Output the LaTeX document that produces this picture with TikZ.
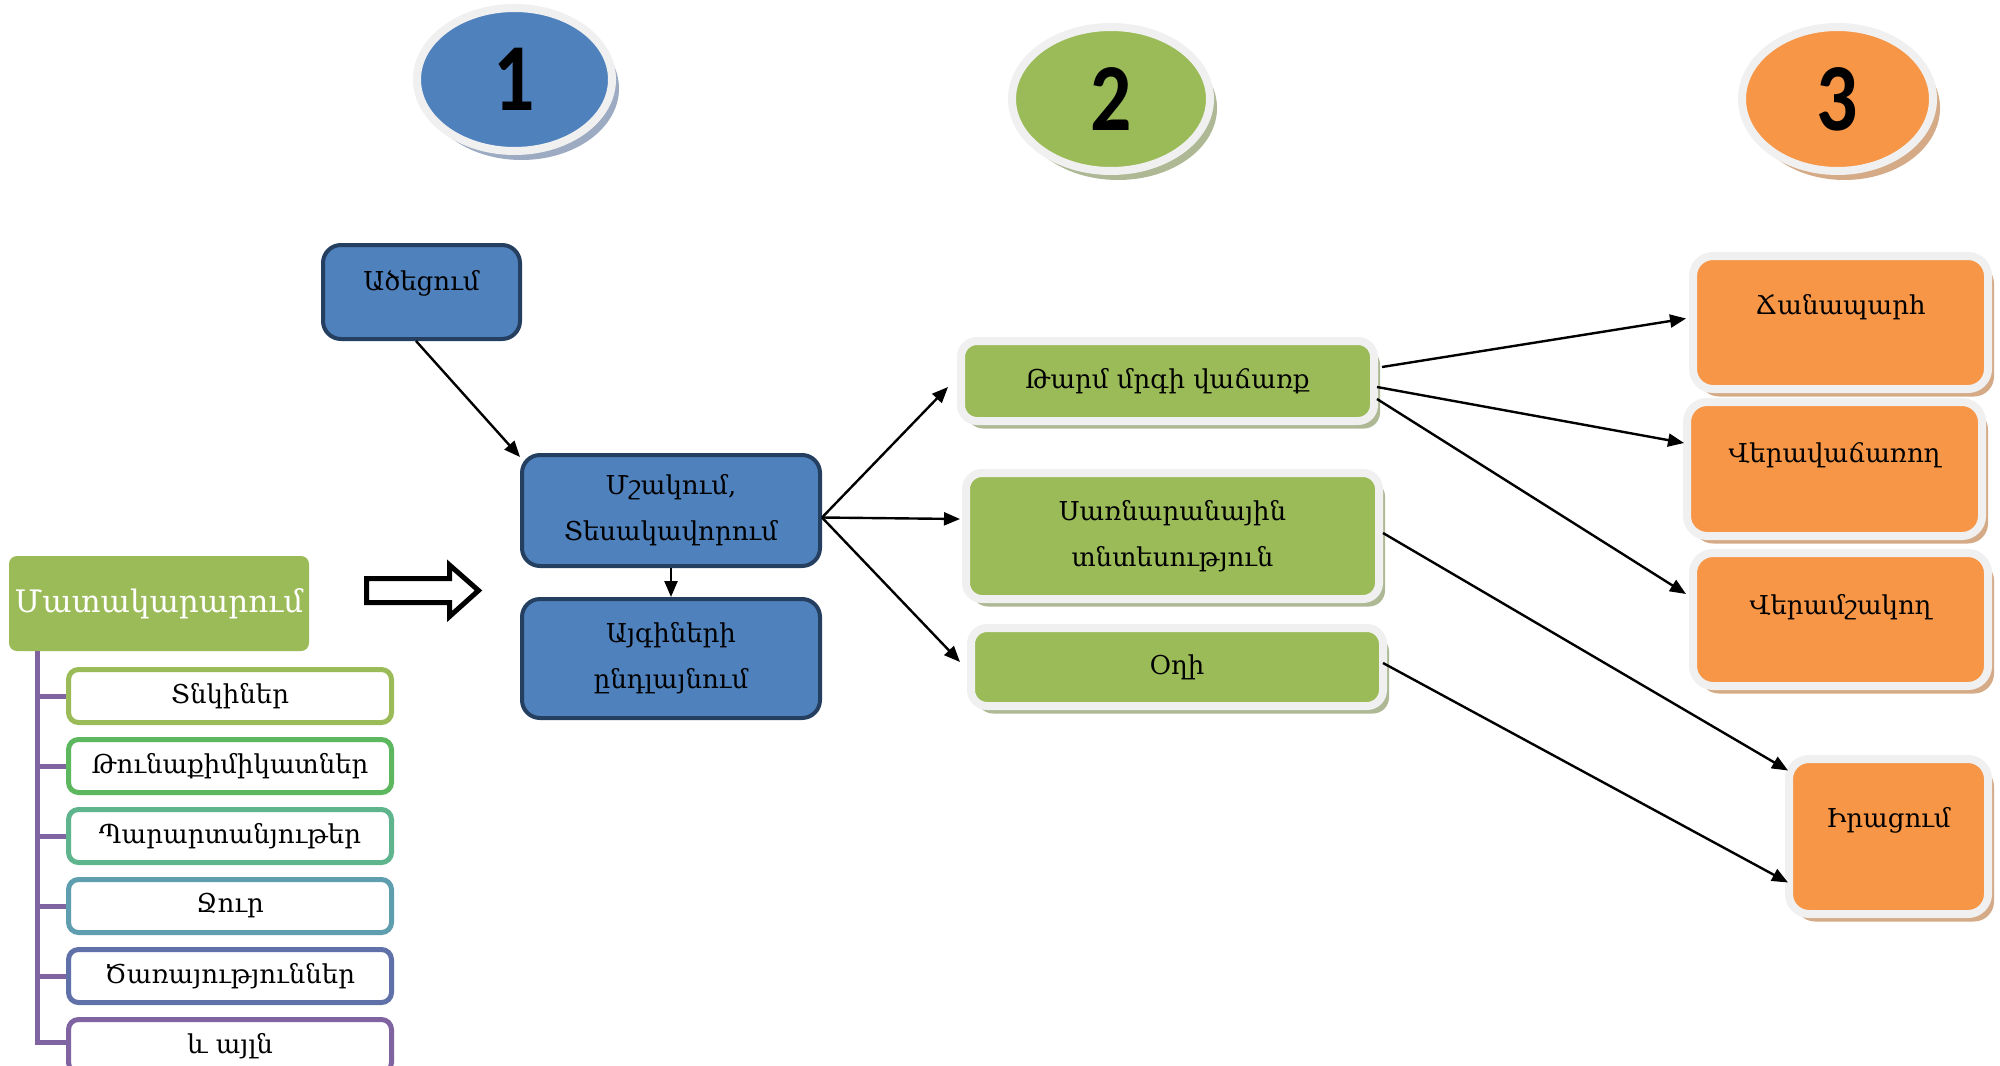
\documentclass[tikz,border=0pt]{standalone}
\usepackage{fontspec}
\setmainfont{DejaVu Serif}
\newfontfamily\numfont{Carlito}
\usetikzlibrary{arrows.meta,shadows,shapes.geometric,calc}
\definecolor{bfill}{HTML}{4F81BD}
\definecolor{bdraw}{HTML}{243F60}
\definecolor{gfill}{HTML}{9BBB59}
\definecolor{ofill}{HTML}{F79646}
\definecolor{framec}{HTML}{F0F0F0}
\definecolor{bshadow}{HTML}{9DABC2}
\definecolor{gshadow}{HTML}{AEB894}
\definecolor{oshadow}{HTML}{D5AA86}
\definecolor{treec}{HTML}{8064A2}
\definecolor{sa}{HTML}{9BBB59}
\definecolor{sb}{HTML}{5DB75F}
\definecolor{sc}{HTML}{5EB48C}
\definecolor{sd}{HTML}{5E9EAF}
\definecolor{se}{HTML}{6070A8}
\definecolor{sf}{HTML}{8064A2}
\tikzset{
  txt/.style={font=\fontsize{13pt}{22pt}\selectfont, align=center, text=black},
  shadowed/.style={drop shadow={shadow xshift=3pt, shadow yshift=-3.75pt, fill=#1, opacity=1}},
  numell/.style={ellipse, draw=framec, line width=4pt, inner sep=0pt,
    font=\fontsize{48pt}{50pt}\selectfont\numfont\bfseries},
  bluebox/.style={rectangle, draw=bdraw, fill=bfill, line width=2pt, rounded corners=9pt, inner sep=0pt, txt},
  greenbox/.style={rectangle, draw=framec, fill=gfill, line width=4pt, rounded corners=8pt, inner sep=0pt, txt, shadowed=gshadow},
  orangebox/.style={rectangle, draw=framec, fill=ofill, line width=4pt, rounded corners=10pt, inner sep=0pt, txt, shadowed=oshadow},
  subbox/.style={rectangle, draw=#1, fill=white, line width=2.5pt, rounded corners=5pt, inner sep=0pt,
    minimum width=161.5pt, minimum height=26.5pt, txt},
  conn/.style={line width=1.2pt, draw=black, -{Triangle[length=8pt,width=6.5pt]}},
  treeline/.style={draw=treec, line width=2.5pt}
}
\begin{document}
\begin{tikzpicture}[x=0.5pt,y=-0.5pt]
\fill[white] (0,0) rectangle (2000,1065);
\useasboundingbox (0,0) rectangle (2000,1065);

% numbered ellipses
\node[numell, fill=bfill, minimum width=97.5pt, minimum height=71.5pt,
  drop shadow={shadow xshift=3.5pt, shadow yshift=-4.5pt, fill=bshadow, opacity=1}] (n1) at (514.5,79.5) {\scalebox{0.85}[1]{1}};
\node[numell, fill=gfill, minimum width=99pt, minimum height=72pt,
  drop shadow={shadow xshift=3.5pt, shadow yshift=-4.5pt, fill=gshadow, opacity=1}] (n2) at (1111,99) {\scalebox{0.85}[1]{2}};
\node[numell, fill=ofill, minimum width=95.5pt, minimum height=72pt,
  drop shadow={shadow xshift=3.5pt, shadow yshift=-4.5pt, fill=oshadow, opacity=1}] (n3) at (1837.5,99) {\scalebox{0.85}[1]{3}};

% supply
\node[rectangle, fill=gfill, rounded corners=4pt, minimum width=150pt, minimum height=47.5pt, inner sep=0pt,
  font=\fontsize{15.5pt}{18pt}\selectfont, text=white] (mat) at (159,603.5) {Մատակարարում};
\node[subbox=sa] (s1) at (230,696) {Տնկիներ};
\node[subbox=sb] (s2) at (230,766) {Թունաքիմիկատներ};
\node[subbox=sc] (s3) at (230,836) {Պարարտանյութեր};
\node[subbox=sd] (s4) at (230,906) {Ջուր};
\node[subbox=se] (s5) at (230,976) {Ծառայություններ};
\node[subbox=sf] (s6) at (230,1046) {և այլն};
\coordinate (troot) at ([xshift=14.5pt]mat.south west);
\draw[treeline] (troot) |- (s1.west);
\draw[treeline] (troot) |- (s2.west);
\draw[treeline] (troot) |- (s3.west);
\draw[treeline] (troot) |- (s4.west);
\draw[treeline] (troot) |- (s5.west);
\draw[treeline] (troot) |- ([yshift=2pt]s6.west);

% hollow arrow
\draw[line width=2.5pt, fill=white, line join=miter]
  (366.5,578.5) -- (449.5,578.5) -- (449.5,565) -- (478.5,590.5) -- (449.5,616.5)
  -- (449.5,602.5) -- (366.5,602.5) -- cycle;

% column 1
\node[bluebox, minimum width=98.5pt, minimum height=47pt,
  label={[txt, yshift=4.5pt]center:Ածեցում}] (ace) at (421.5,292) {};
\node[bluebox, minimum width=149pt, minimum height=55.5pt] (msh) at (671,510.5) {Մշակում,\\[1pt]Տեսակավորում};
\node[bluebox, minimum width=149pt, minimum height=59.5pt] (ayg) at (671,658.5) {Այգիների\\[1pt]ընդլայնում};

% column 2
\node[greenbox, minimum width=206.5pt, minimum height=40pt] (tarm) at (1167.5,381) {Թարմ մրգի վաճառք};
\node[greenbox, minimum width=206.5pt, minimum height=63pt] (sarn) at (1172.5,536) {Սառնարանային\\[1pt]տնտեսություն};
\node[greenbox, minimum width=206pt, minimum height=39pt] (oghi) at (1177,667) {Օղի};

% column 3
\node[orangebox, minimum width=147.5pt, minimum height=66.5pt,
  label={[txt, yshift=7.5pt]center:Ճանապարհ}] (chan) at (1840.5,322.5) {};
\node[orangebox, minimum width=147.5pt, minimum height=67pt,
  label={[txt, yshift=7pt]center:Վերավաճառող}] (vervach) at (1834.5,469) {};
\node[orangebox, minimum width=147.5pt, minimum height=66.5pt,
  label={[txt, yshift=6pt]center:Վերամշակող}] (verams) at (1840.5,619.5) {};
\node[orangebox, minimum width=99.5pt, minimum height=77.5pt,
  label={[txt, yshift=8pt]center:Իրացում}] (irac) at (1888.5,836.5) {};

% connectors
\draw[conn] ([xshift=-2.75pt]ace.south) -- ([yshift=-2pt]msh.north west);
\draw[conn] (msh.south) -- (ayg.north);
\draw[conn] ([yshift=-3.5pt]msh.east) -- ([xshift=-4.5pt,yshift=-3pt]tarm.west);
\draw[conn] ([yshift=-3.5pt]msh.east) -- ([xshift=-1pt,yshift=8.5pt]sarn.west);
\draw[conn] ([yshift=-3.5pt]msh.east) -- ([xshift=-3.5pt,yshift=2.5pt]oghi.west);
\draw[conn] ([xshift=2pt,yshift=7pt]tarm.east) -- ([xshift=-1.5pt,yshift=2pt]chan.west);
\draw[conn] ([xshift=-0.5pt,yshift=-3pt]tarm.east) -- ([xshift=0.5pt,yshift=13pt]vervach.west);
\draw[conn] ([xshift=-0.5pt,yshift=-9pt]tarm.east) -- ([xshift=-1.5pt,yshift=12.75pt]verams.west);
\draw[conn] ([yshift=1.5pt]sarn.east) -- ([xshift=1.5pt,yshift=33pt]irac.west);
\draw[conn] ([xshift=-2pt,yshift=2pt]oghi.east) -- ([xshift=1.5pt,yshift=-23pt]irac.west);
\end{tikzpicture}
\end{document}
